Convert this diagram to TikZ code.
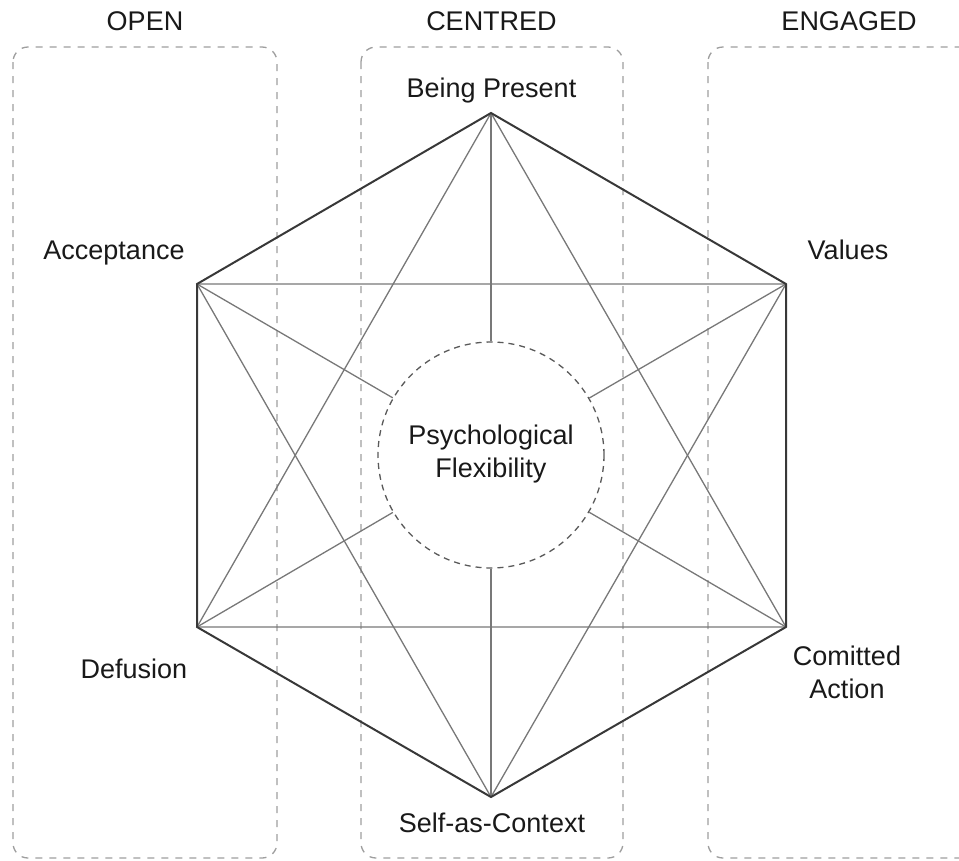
\documentclass[tikz,border=0pt]{standalone}
\usepackage{fontspec}
\setmainfont{Liberation Sans}
\begin{document}
\begin{tikzpicture}[x=1pt,y=-1pt,
  groupbox/.style={draw=black!38, line width=1.3pt, dash pattern=on 7pt off 7pt, rounded corners=15pt},
  grouptitle/.style={anchor=base, text=black!90, font=\fontsize{27}{33}\selectfont, inner sep=0pt},
  label/.style={anchor=base, text=black!90, font=\fontsize{27}{33}\selectfont, inner sep=0pt, align=center},
  outer/.style={draw=black!78, line width=2pt, line join=round},
  inner/.style={draw=black!53, line width=1.3pt},
  hub/.style={circle, draw=black!65, line width=1.3pt, dash pattern=on 6pt off 5pt, minimum size=226pt, inner sep=0pt}
]
\useasboundingbox (0,0) rectangle (959,860);
\clip (0,0) rectangle (959,860);

% group frames
\draw[groupbox] (13,47) rectangle (277,858);
\draw[groupbox] (361,47) rectangle (623,858);
\draw[groupbox] (708,47) rectangle (1000,858);

\node[grouptitle] (open) at (145,30) {OPEN};
\node[grouptitle] (centred) at (491.5,30) {CENTRED};
\node[grouptitle] (engaged) at (849,30) {ENGAGED};

% hexagon corners
\coordinate (bp) at (491,113);
\coordinate (va) at (786,284);
\coordinate (ca) at (786,627);
\coordinate (sc) at (491,797);
\coordinate (de) at (197,627);
\coordinate (ac) at (197,284);

% centre
\node[hub] (pf) at (491,455) {};
\node[label] (pftext) at (491,477) {Psychological\\Flexibility};

% two triangles
\draw[inner] (bp) -- (de) -- (ca) -- cycle;
\draw[inner] (sc) -- (ac) -- (va) -- cycle;

% spokes to the centre
\foreach \v in {bp,va,ca,sc,de,ac} \draw[inner] (\v) -- (pf);

% hexagon outline
\draw[outer] (bp) -- (va) -- (ca) -- (sc) -- (de) -- (ac) -- cycle;

% corner labels
\node[label] (lbp) at (491.5,97) {Being Present};
\node[label] (lac) at (114,259) {Acceptance};
\node[label] (lva) at (848,259) {Values};
\node[label] (lde) at (134,678) {Defusion};
\node[label] (lca) at (847,698) {Comitted\\Action};
\node[label] (lsc) at (492,832) {Self-as-Context};
\end{tikzpicture}
\end{document}
